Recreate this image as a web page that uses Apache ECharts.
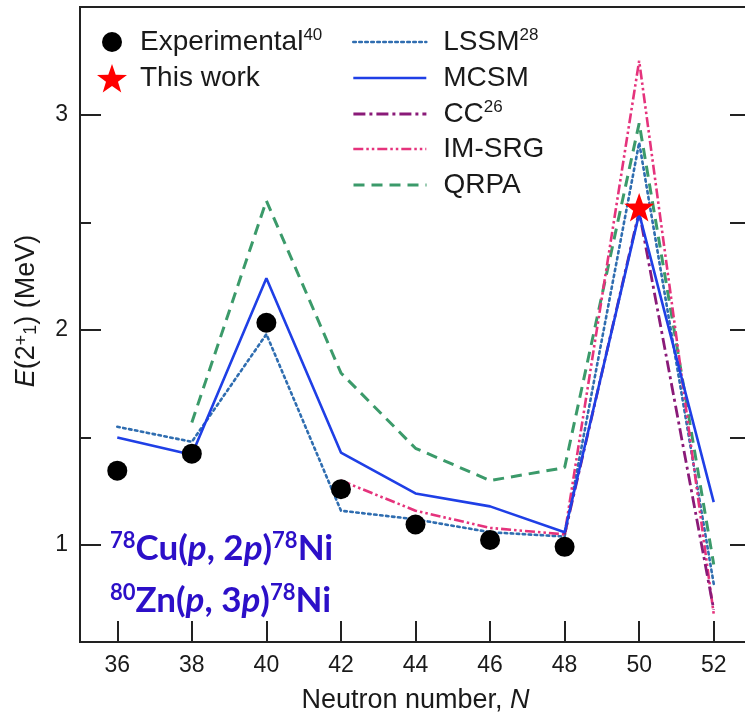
<!DOCTYPE html>
<html><head><meta charset="utf-8">
<script src="https://cdn.jsdelivr.net/npm/echarts@6/dist/echarts.min.js"></script>
<style>html,body{margin:0;padding:0;background:#fff}#c{width:745px;height:721px}</style>
</head><body><div id="c"></div>
<script>
// ---- data ----
const neutronTicks = [36, 38, 40, 42, 44, 46, 48, 50, 52];
const energyTicks = [1, 2, 3];
const energyMinorTicks = [1.5, 2.5];
const energyAllTicks = [1, 1.5, 2, 2.5, 3];

const expN = [36, 38, 40, 42, 44, 46, 48];
const expE = [1.346, 1.425, 2.033, 1.260, 1.096, 1.024, 0.992];
const thisWorkN = [50];
const thisWorkE = [2.57];
const lssmN = [36, 38, 40, 42, 44, 46, 48, 50, 52];
const lssmE = [1.55, 1.48, 1.98, 1.16, 1.12, 1.06, 1.04, 2.87, 0.82];
const mcsmN = [36, 38, 40, 42, 44, 46, 48, 50, 52];
const mcsmE = [1.50, 1.42, 2.24, 1.43, 1.24, 1.18, 1.06, 2.54, 1.20];
const ccN = [48, 50, 52];
const ccE = [1.05, 2.55, 0.70];
const imsrgN = [42, 44, 46, 48, 50, 52];
const imsrgE = [1.30, 1.16, 1.08, 1.05, 3.25, 0.68];
const qrpaN = [38, 40, 42, 44, 46, 48, 50, 52];
const qrpaE = [1.57, 2.60, 1.80, 1.45, 1.30, 1.36, 2.96, 0.91];

// ---- helpers ----
const zip = (xs, ys) => xs.map((x, i) => [x, ys[i]]);
function starPath() {
  let d = '';
  for (let k = 0; k < 10; k++) {
    const r = k % 2 === 0 ? 1 : 0.4;
    const a = -Math.PI / 2 + k * Math.PI / 5;
    d += (k === 0 ? 'M' : 'L') + (r * Math.cos(a)).toFixed(4) + ' ' + (r * Math.sin(a)).toFixed(4) + ' ';
  }
  return 'path://' + d + 'Z';
}
const STAR = starPath();
const FONT = 'Liberation Sans';
const TXT = '#1a1a1a';

const legendRich = {
  n: { fontSize: 28, fontFamily: FONT, color: TXT, lineHeight: 30 },
  s: { fontSize: 17, fontFamily: FONT, color: TXT, verticalAlign: 'top' }
};
function mkLegend(name, label, left, cy, iw, ih, pad, hideSymbol) {
  return {
    data: [name], left: left, top: cy - 15, padding: 0, orient: 'vertical',
    itemWidth: iw, itemHeight: ih, selectedMode: false,
    formatter: () => label,
    lineStyle: { width: 'inherit', type: 'inherit', color: 'inherit' },
    itemStyle: { opacity: hideSymbol ? 0 : 1 },
    textStyle: { fontSize: 28, fontFamily: FONT, color: TXT, padding: [0, 0, 0, pad], rich: legendRich }
  };
}

const chart = echarts.init(document.getElementById('c'));
chart.setOption({
  animation: false,
  backgroundColor: '#fff',
  grid: { left: 80, top: 7, width: 671, height: 635, outerBoundsMode: 'none', containLabel: false,
          show: true, borderColor: '#222', borderWidth: 2, backgroundColor: 'transparent' },
  legend: [
    mkLegend('Experimental', '{n|Experimental}{s|40}', 102, 42, 20, 20, 13, false),
    mkLegend('This work', '{n|This work}', 97, 79, 30, 30, 8, false),
    mkLegend('LSSM', '{n|LSSM}{s|28}', 352, 42, 73, 14, 12, true),
    mkLegend('MCSM', '{n|MCSM}', 352, 79, 73, 14, 12, true),
    mkLegend('CC', '{n|CC}{s|26}', 352, 114, 73, 14, 12, true),
    mkLegend('IM-SRG', '{n|IM-SRG}', 352, 150, 73, 14, 12, true),
    mkLegend('QRPA', '{n|QRPA}', 352, 186, 73, 14, 12, true)
  ],
  xAxis: {
    type: 'value', min: 35, max: 53, position: 'bottom',
    name: 'Neutron number, {i|N}', nameLocation: 'middle', nameGap: 45,
    nameTextStyle: { fontSize: 27, fontFamily: FONT, color: TXT, rich: { i: { fontSize: 27, fontFamily: FONT, fontStyle: 'italic', color: TXT } } },
    axisLine: { show: true, lineStyle: { color: '#222', width: 2 } },
    axisTick: { show: true, inside: true, length: 21, customValues: neutronTicks, lineStyle: { color: '#222', width: 2 } },
    axisLabel: { show: true, customValues: neutronTicks, fontSize: 23, fontFamily: FONT, color: TXT, margin: 12 },
    splitLine: { show: false }
  },
  yAxis: [
    {
      type: 'value', min: 0.55, max: 3.5, position: 'left',
      name: '{i|E}(2{sup|+}{sub|1}) (MeV)', nameLocation: 'middle', nameGap: 40, nameRotate: 90,
      nameTextStyle: {
        fontSize: 27, fontFamily: FONT, color: TXT, padding: [0, 0, 0, 27],
        rich: {
          i: { fontSize: 27, fontFamily: FONT, fontStyle: 'italic', color: TXT },
          sup: { fontSize: 18, fontFamily: FONT, color: TXT, verticalAlign: 'top' },
          sub: { fontSize: 18, fontFamily: FONT, color: TXT, verticalAlign: 'bottom' }
        }
      },
      axisLine: { show: true, lineStyle: { color: '#222', width: 2 } },
      axisTick: { show: true, inside: true, length: 21, customValues: energyTicks, lineStyle: { color: '#222', width: 2 } },
      axisLabel: { show: true, customValues: energyTicks, fontSize: 23, fontFamily: FONT, color: TXT, margin: 12 },
      splitLine: { show: false }
    },
    {
      type: 'value', min: 0.55, max: 3.5, position: 'left',
      axisLine: { show: false },
      axisTick: { show: true, inside: true, length: 11, customValues: energyMinorTicks, lineStyle: { color: '#222', width: 2 } },
      axisLabel: { show: false },
      splitLine: { show: false }
    },
    {
      type: 'value', min: 0.55, max: 3.5, position: 'right',
      axisLine: { show: false },
      axisTick: { show: true, inside: true, length: 21, customValues: energyAllTicks, lineStyle: { color: '#222', width: 2 } },
      axisLabel: { show: false },
      splitLine: { show: false }
    }
  ],
  graphic: [
    {
      type: 'text', left: 110, top: 530, z: 100,
      style: {
        text: '{s|78}{b|Cu(}{i|p}{b|, 2}{i|p}{b|)}{s|78}{b|Ni}\n{s|80}{b|Zn(}{i|p}{b|, 3}{i|p}{b|)}{s|78}{b|Ni}',
        fill: '#2c0fc8',
        rich: {
          b: { fontSize: 35, fontFamily: 'Lato', fontWeight: 'bold', fill: '#2c0fc8', lineHeight: 52 },
          i: { fontSize: 35, fontFamily: 'Lato', fontWeight: 'bold', fontStyle: 'italic', fill: '#2c0fc8', lineHeight: 52 },
          s: { fontSize: 22, fontFamily: 'Lato', fontWeight: 'bold', fill: '#2c0fc8', verticalAlign: 'top', padding: [7, 0, 0, 0] }
        }
      }
    }
  ],
  series: [
    { type: 'line', name: 'QRPA', data: zip(qrpaN, qrpaE), symbol: 'none', z: 2,
      lineStyle: { color: '#3b9a6a', width: 3, type: [11, 7] } },
    { type: 'line', name: 'LSSM', data: zip(lssmN, lssmE), symbol: 'none', z: 3,
      lineStyle: { color: '#2f6db0', width: 2.6, type: [2.5, 3.5], cap: 'round' } },
    { type: 'line', name: 'IM-SRG', data: zip(imsrgN, imsrgE), symbol: 'none', z: 4,
      lineStyle: { color: '#e5337c', width: 2.6, type: [10, 3, 2.5, 3, 2.5, 3] } },
    { type: 'line', name: 'CC', data: zip(ccN, ccE), symbol: 'none', z: 5,
      lineStyle: { color: '#8a1a78', width: 2.8, type: [12, 4, 3, 4] } },
    { type: 'line', name: 'MCSM', data: zip(mcsmN, mcsmE), symbol: 'none', z: 6,
      lineStyle: { color: '#1f3fe6', width: 2.6, type: 'solid' } },
    { type: 'scatter', name: 'Experimental', data: zip(expN, expE), symbol: 'circle', symbolSize: 20, z: 8,
      itemStyle: { color: '#000', opacity: 1 } },
    { type: 'scatter', name: 'This work', data: zip(thisWorkN, thisWorkE), symbol: STAR, symbolKeepAspect: true, symbolSize: 30, z: 9,
      itemStyle: { color: '#ff0000', opacity: 1 } }
  ]
});
</script></body></html>
